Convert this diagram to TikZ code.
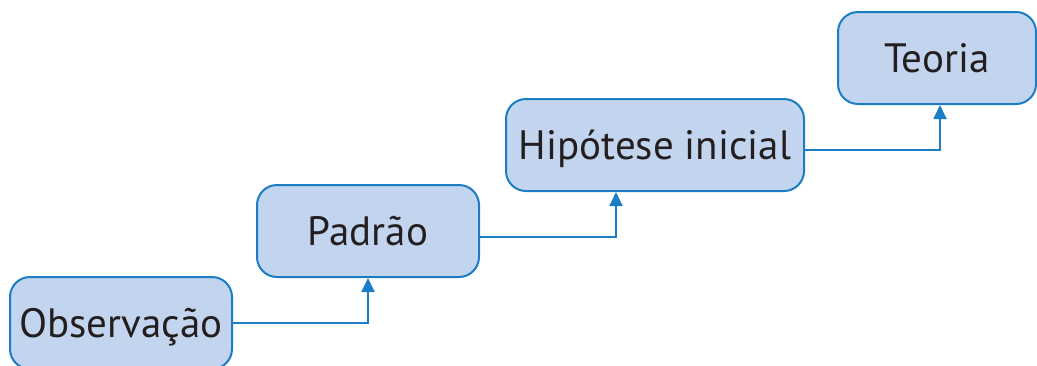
\documentclass[tikz,border=0pt]{standalone}
\usepackage{fontspec}
\setmainfont{PT Sans}
\usetikzlibrary{arrows.meta}
\definecolor{boxfill}{HTML}{C3D5EE}
\definecolor{boxline}{HTML}{1B7DC3}
\definecolor{ink}{HTML}{231F20}
\begin{document}
\begin{tikzpicture}[x=1pt,y=-1pt,
  stage/.style={draw=boxline, fill=boxfill, line width=2pt,
    rounded corners=20pt, minimum height=92pt, inner sep=0pt,
    text height=28pt, text depth=0pt, font=\fontsize{41}{43}\selectfont,
    text=ink},
  link/.style={draw=boxline, line width=1.8pt,
    -{Triangle[length=14pt,width=13pt]}}]
\useasboundingbox (0,0) rectangle (1037,365);
\clip (0,0) rectangle (1037,365);
% stages of the staircase
\node[stage, minimum width=222pt] (obs) at (121,323) {Observação};
\node[stage, minimum width=222pt] (pad) at (368,231) {Padrão};
\node[stage, minimum width=298pt] (hip) at (655,145) {Hipótese inicial};
\node[stage, minimum width=198pt] (teo) at (937,58) {Teoria};
% connectors between stages
\draw[link] (obs.east) -| (pad.south);
\coordinate (hipin) at ([xshift=-39pt]hip.south);
\draw[link] ([yshift=-6pt]pad.east) -| (hipin);
\coordinate (teoin) at ([xshift=3pt]teo.south);
\draw[link] ([yshift=-5pt]hip.east) -| (teoin);
\end{tikzpicture}
\end{document}
